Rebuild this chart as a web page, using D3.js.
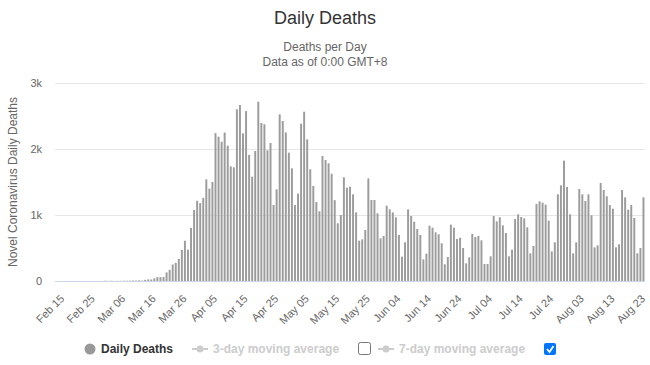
<!DOCTYPE html>
<html>
<head>
<meta charset="utf-8">
<script src="https://cdn.jsdelivr.net/npm/d3@7"></script>
<style>
    body { margin: 0; background: #fff; }
    #chart { width: 650px; height: 365px; }
    text { font-family: "Liberation Sans", Arial, sans-serif; }
</style>
</head>
<body>
<div id="chart"></div>
<script>
// Data
const startDay = "2020-02-15";
const endDay = "2020-08-25";

const dailyDeaths = [
    0, 0, 0, 0, 0, 0, 0, 0, 0, 0,
    0, 0, 0, 0, 1, 1, 5, 1, 4, 1,
    2, 3, 4, 4, 6, 8, 7, 10, 7, 17,
    24, 23, 40, 59, 58, 60, 130, 170, 250, 275,
    335, 470, 610, 475, 805, 1075, 1215, 1180, 1260, 1540,
    1400, 1500, 2240, 2187, 2110, 2250, 2050, 1737, 1722, 2601,
    2666, 2237, 2575, 1909, 1581, 1970, 2717, 2394, 2374, 1980,
    2091, 1151, 1389, 2525, 2424, 2252, 1944, 1707, 1151, 1323,
    2384, 2565, 2146, 1692, 1439, 1197, 1056, 1894, 1833, 1783,
    1625, 1225, 874, 1000, 1571, 1414, 1429, 1313, 1040, 611,
    631, 773, 1555, 1227, 1227, 1025, 646, 682, 1141, 1086,
    1040, 965, 697, 369, 586, 1086, 985, 899, 788, 697,
    328, 414, 838, 808, 737, 707, 571, 253, 364, 854,
    808, 636, 656, 500, 268, 359, 712, 667, 682, 616,
    258, 258, 374, 985, 904, 965, 843, 727, 374, 475,
    939, 1010, 970, 949, 813, 419, 530, 1167, 1207, 1187,
    1157, 914, 449, 586, 1313, 1449, 1823, 1424, 1010, 419,
    586, 1394, 1313, 1212, 1313, 995, 510, 540, 1485, 1379,
    1283, 1151, 1096, 510, 556, 1379, 1268, 1081, 1151, 955,
    419, 500, 1268
];

const tickLabels = ["Feb 15", "Feb 25", "Mar 06", "Mar 16", "Mar 26", "Apr 05", "Apr 15",
    "Apr 25", "May 05", "May 15", "May 25", "Jun 04", "Jun 14", "Jun 24", "Jul 04",
    "Jul 14", "Jul 24", "Aug 03", "Aug 13", "Aug 23"];

const yTicks = [0, 1000, 2000, 3000];
const yTickLabels = ["0", "1k", "2k", "3k"];

const legendItems = ["Daily Deaths", "3-day moving average", "7-day moving average"];

// Categories (one per day)
const fmt = d3.timeFormat("%b %d");
const parse = d3.timeParse("%Y-%m-%d");
const days = d3.timeDays(parse(startDay), d3.timeDay.offset(parse(endDay), 1)).map(fmt);

// Set up the SVG canvas dimensions
const width = 650;
const height = 365;
const margin = { top: 83, right: 5, bottom: 84, left: 55 };

const svg = d3.select("#chart")
    .append("svg")
    .attr("width", width)
    .attr("height", height);

const x = d3.scaleBand()
    .domain(days)
    .range([margin.left, width - margin.right])
    .paddingInner(0.36)
    .paddingOuter(0.18);

const y = d3.scaleLinear()
    .domain([0, 3000])
    .range([height - margin.bottom, margin.top]);

// Titles
svg.append("text")
    .attr("x", width / 2)
    .attr("y", 24)
    .attr("text-anchor", "middle")
    .style("font-size", "18px")
    .style("fill", "#333")
    .text("Daily Deaths");

svg.append("text")
    .attr("x", width / 2)
    .attr("y", 51)
    .attr("text-anchor", "middle")
    .style("font-size", "12px")
    .style("fill", "#666")
    .text("Deaths per Day");

svg.append("text")
    .attr("x", width / 2)
    .attr("y", 66)
    .attr("text-anchor", "middle")
    .style("font-size", "12px")
    .style("fill", "#666")
    .text("Data as of 0:00 GMT+8");

// Grid lines
svg.append("g")
    .selectAll("line")
    .data(yTicks.slice(1))
    .join("line")
    .attr("x1", margin.left)
    .attr("x2", width - margin.right)
    .attr("y1", d => Math.round(y(d)) + 0.5)
    .attr("y2", d => Math.round(y(d)) + 0.5)
    .attr("stroke", "#e6e6e6");

// Y axis
const yAxis = svg.append("g")
    .attr("transform", `translate(${margin.left - 10},0)`)
    .call(d3.axisLeft(y).tickValues(yTicks).tickSize(0).tickFormat((d, i) => yTickLabels[i]));
yAxis.select(".domain").remove();
yAxis.selectAll("text")
    .style("font-size", "11px")
    .style("fill", "#666")
    .style("font-family", "Liberation Sans, Arial, sans-serif");

// Y axis title
svg.append("text")
    .attr("transform", `translate(17, ${(margin.top + height - margin.bottom) / 2}) rotate(-90)`)
    .attr("text-anchor", "middle")
    .style("font-size", "12px")
    .style("fill", "#666")
    .text("Novel Coronavirus Daily Deaths");

// Bars
svg.append("g")
    .selectAll("rect")
    .data(dailyDeaths)
    .join("rect")
    .attr("x", (d, i) => x(days[i]))
    .attr("y", d => y(d))
    .attr("width", x.bandwidth())
    .attr("height", d => y(0) - y(d))
    .attr("fill", "#9c9c9c");

// X axis line
svg.append("line")
    .attr("x1", margin.left)
    .attr("x2", width - margin.right)
    .attr("y1", y(0) + 0.5)
    .attr("y2", y(0) + 0.5)
    .attr("stroke", "#ccd6eb");

// X axis labels (rotated)
svg.append("g")
    .selectAll("text")
    .data(tickLabels)
    .join("text")
    .attr("transform", d => `translate(${x(d) + x.bandwidth() / 2 + 3}, 294) rotate(-45)`)
    .attr("text-anchor", "end")
    .attr("dy", "0.7em")
    .style("font-size", "11px")
    .style("fill", "#666")
    .text(d => d);

// Legend
const legend = svg.append("g");
const ly = 349;

legend.append("circle")
    .attr("cx", 90)
    .attr("cy", ly)
    .attr("r", 5.5)
    .attr("fill", "#999");

legend.append("text")
    .attr("x", 101)
    .attr("y", ly + 4)
    .style("font-size", "12px")
    .style("font-weight", "bold")
    .style("fill", "#333")
    .text(legendItems[0]);

function lineIcon(x0) {
    legend.append("line")
        .attr("x1", x0)
        .attr("x2", x0 + 16)
        .attr("y1", ly)
        .attr("y2", ly)
        .attr("stroke", "#ccc")
        .attr("stroke-width", 2);
    legend.append("circle")
        .attr("cx", x0 + 8)
        .attr("cy", ly)
        .attr("r", 3.5)
        .attr("fill", "#ccc");
}

lineIcon(192);
legend.append("text")
    .attr("x", 213)
    .attr("y", ly + 4)
    .style("font-size", "12px")
    .style("font-weight", "bold")
    .style("fill", "#ccc")
    .text(legendItems[1]);

// Unchecked box
legend.append("rect")
    .attr("x", 358.5)
    .attr("y", ly - 6.5)
    .attr("width", 12)
    .attr("height", 12)
    .attr("rx", 2)
    .attr("fill", "#fff")
    .attr("stroke", "#767676");

lineIcon(378);
legend.append("text")
    .attr("x", 399)
    .attr("y", ly + 4)
    .style("font-size", "12px")
    .style("font-weight", "bold")
    .style("fill", "#ccc")
    .text(legendItems[2]);

// Checked box
legend.append("rect")
    .attr("x", 544)
    .attr("y", ly - 6)
    .attr("width", 12)
    .attr("height", 12)
    .attr("rx", 2)
    .attr("fill", "#0075ff");

legend.append("path")
    .attr("d", `M547,${ly} L549.5,${ly + 3} L553.5,${ly - 3}`)
    .attr("fill", "none")
    .attr("stroke", "#fff")
    .attr("stroke-width", 1.8);
</script>
</body>
</html>
